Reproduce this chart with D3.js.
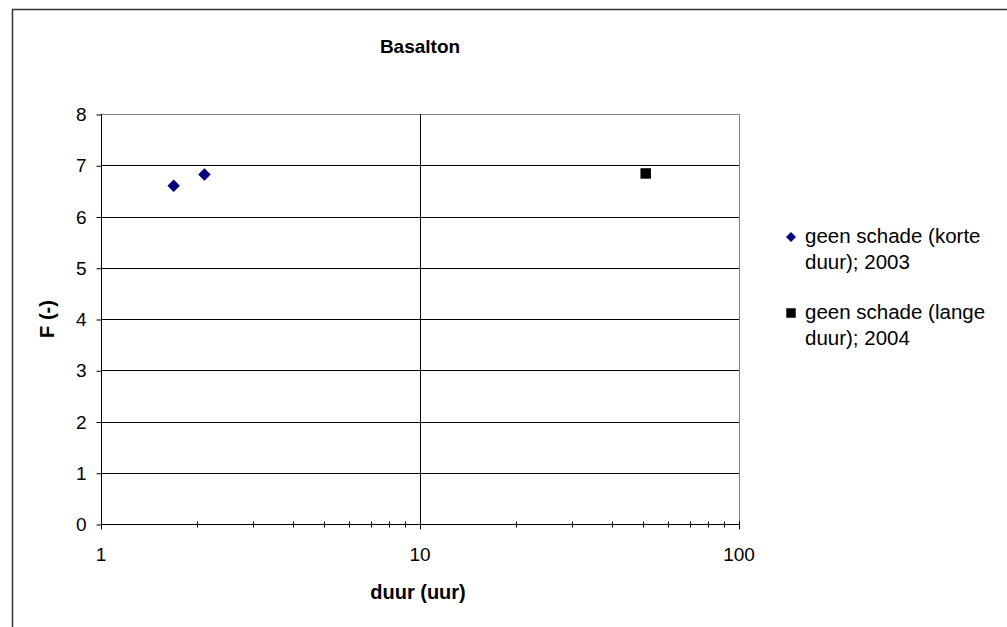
<!DOCTYPE html>
<html>
<head>
<meta charset="utf-8">
<script src="https://cdn.jsdelivr.net/npm/d3@7"></script>
<style>
  body { margin: 0; background: #fff; }
  text { font-family: "Liberation Sans", Arial, sans-serif; }
</style>
</head>
<body>
<div id="chart"></div>
<script>
// data
var kortDuur = [1.69, 2.11]
var kortF = [6.60, 6.82]
var langDuur = [51]
var langF = [6.84]
var yTicks = [0, 1, 2, 3, 4, 5, 6, 7, 8]
var xLabels = [1, 10, 100]
var legendLabels = [['geen schade (korte', 'duur); 2003'], ['geen schade (lange', 'duur); 2004']]

var width = 1007
var height = 627
var plotLeft = 101, plotRight = 739, plotTop = 114, plotBottom = 524

var svg = d3.select('#chart').append('svg').attr('width', width).attr('height', height)

// outer chart border (runs off the window on right/bottom)
svg.append('rect').attr('x', 12.5).attr('y', 9.5).attr('width', 1010).attr('height', 640)
  .style('fill', 'none').style('stroke', '#333').style('stroke-width', 1.5)

var x = d3.scaleLog().domain([1, 100]).range([plotLeft, plotRight])
var y = d3.scaleLinear().domain([0, 8]).range([plotBottom, plotTop])

// horizontal gridlines
svg.append('g').selectAll('line').data(yTicks.slice(1)).enter().append('line')
  .attr('x1', plotLeft).attr('x2', plotRight)
  .attr('y1', function(d) { return Math.round(y(d)) + 0.5 })
  .attr('y2', function(d) { return Math.round(y(d)) + 0.5 })
  .style('stroke', function(d) { return d == 8 ? '#808080' : '#000' }).style('stroke-width', 1)

// vertical gridline at 10, right border
svg.append('line').attr('x1', x(10) + 0.5).attr('x2', x(10) + 0.5).attr('y1', plotTop).attr('y2', plotBottom)
  .style('stroke', '#000')
svg.append('line').attr('x1', plotRight + 0.5).attr('x2', plotRight + 0.5).attr('y1', plotTop).attr('y2', plotBottom)
  .style('stroke', '#808080')

// y axis
var yAxis = d3.axisLeft(y).tickValues(yTicks).tickSize(5).tickPadding(10).tickFormat(d3.format('d'))
var gy = svg.append('g').attr('transform', 'translate(' + (plotLeft + 0.5) + ',0.5)').call(yAxis)
gy.select('.domain').remove()
gy.append('line').attr('x1', 0).attr('x2', 0).attr('y1', plotTop - 0.5).attr('y2', plotBottom).style('stroke', '#000')
gy.selectAll('.tick line').style('stroke', '#000')
gy.selectAll('text').style('font-size', '19px').style('fill', '#000').attr('font-family', null)

// x axis, minor ticks cross the axis
var minor = x.ticks().filter(function(d) { return xLabels.indexOf(d) < 0 })
var gx = svg.append('g').attr('transform', 'translate(0,' + (plotBottom + 0.5) + ')')
gx.append('line').attr('x1', plotLeft).attr('x2', plotRight + 1).style('stroke', '#000')
gx.selectAll('.minor').data(minor).enter().append('line').attr('class', 'minor')
  .attr('x1', function(d) { return Math.round(x(d)) + 0.5 })
  .attr('x2', function(d) { return Math.round(x(d)) + 0.5 })
  .attr('y1', -3).attr('y2', 3).style('stroke', '#000')
gx.selectAll('.major').data(xLabels).enter().append('line').attr('class', 'major')
  .attr('x1', function(d) { return Math.round(x(d)) + 0.5 })
  .attr('x2', function(d) { return Math.round(x(d)) + 0.5 })
  .attr('y1', -3).attr('y2', 5).style('stroke', '#000')
gx.selectAll('.lbl').data(xLabels).enter().append('text').attr('class', 'lbl')
  .attr('x', function(d) { return x(d) }).attr('y', 36)
  .attr('text-anchor', 'middle').style('font-size', '19px').text(function(d) { return d })

// series
svg.append('g').selectAll('path').data(kortDuur).enter().append('path')
  .attr('d', d3.symbol().type(d3.symbolDiamond2).size(100))
  .attr('transform', function(d, i) { return 'translate(' + x(d) + ',' + y(kortF[i]) + ')' })
  .style('fill', '#000080')
svg.append('g').selectAll('path').data(langDuur).enter().append('path')
  .attr('d', d3.symbol().type(d3.symbolSquare).size(110))
  .attr('transform', function(d, i) { return 'translate(' + x(d) + ',' + y(langF[i]) + ')' })
  .style('fill', '#000')

// titles
svg.append('text').attr('x', 420).attr('y', 53).attr('text-anchor', 'middle')
  .style('font-size', '19px').style('font-weight', 'bold').text('Basalton')
svg.append('text').attr('x', 418).attr('y', 599).attr('text-anchor', 'middle')
  .style('font-size', '20px').style('font-weight', 'bold').text('duur (uur)')
svg.append('text').attr('transform', 'translate(54,319) rotate(-90)').attr('text-anchor', 'middle')
  .style('font-size', '20px').style('font-weight', 'bold').text('F (-)')

// legend
var lg = svg.append('g').selectAll('g').data(legendLabels).enter().append('g')
  .attr('transform', function(d, i) { return 'translate(791,' + (237 + i * 76) + ')' })
lg.append('path').attr('d', function(d, i) {
    return i == 0 ? d3.symbol().type(d3.symbolDiamond2).size(64)() : d3.symbol().type(d3.symbolSquare).size(90)()
  })
  .style('fill', function(d, i) { return i == 0 ? '#000080' : '#000' })
lg.append('text').attr('x', 14).attr('y', 6).style('font-size', '20.5px')
  .selectAll('tspan').data(function(d) { return d }).enter().append('tspan')
  .attr('x', 14).attr('dy', function(d, i) { return i == 0 ? 0 : 26 }).text(function(d) { return d })
</script>
</body>
</html>
